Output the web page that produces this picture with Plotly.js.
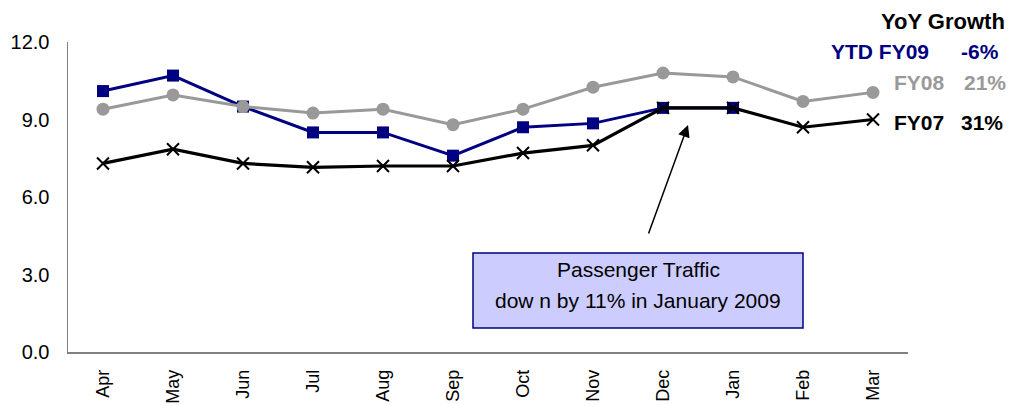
<!DOCTYPE html>
<html>
<head>
<meta charset="utf-8">
<script src="https://cdn.plot.ly/plotly-3.0.1.min.js"></script>
<style>
  html, body { margin: 0; padding: 0; background: #fff; }
  #chart { width: 1023px; height: 405px; }
</style>
</head>
<body>
<div id="chart"></div>
<script>
var months = ["Apr","May","Jun","Jul","Aug","Sep","Oct","Nov","Dec","Jan","Feb","Mar"];
var fy09 = [10.1, 10.7, 9.5, 8.5, 8.5, 7.6, 8.7, 8.85, 9.45, 9.45, null, null];
var fy08 = [9.4, 9.95, 9.5, 9.25, 9.4, 8.8, 9.4, 10.25, 10.8, 10.65, 9.7, 10.05];
var fy07 = [7.3, 7.85, 7.3, 7.15, 7.2, 7.2, 7.7, 8.0, 9.45, 9.45, 8.7, 9.0];
var yTicks = [0, 3, 6, 9, 12];
var yTickText = ["0.0", "3.0", "6.0", "9.0", "12.0"];

var FONT = "Liberation Sans, Arial, sans-serif";
var NAVY = "#000080", GRAY = "#999999", BLACK = "#000000";

var traces = [
  { x: months, y: fy09, type: "scatter", mode: "lines+markers", name: "YTD FY09",
    line: { color: NAVY, width: 3 },
    marker: { symbol: "square", size: 12, color: NAVY } },
  { x: months, y: fy08, type: "scatter", mode: "lines+markers", name: "FY08",
    line: { color: GRAY, width: 3 },
    marker: { symbol: "circle", size: 13, color: GRAY } },
  { x: months, y: fy07, type: "scatter", mode: "lines+markers", name: "FY07",
    line: { color: BLACK, width: 3.2 },
    marker: { symbol: "x-thin", size: 12, color: BLACK, line: { color: BLACK, width: 2 } } }
];

// plot-area pixel helpers for annotation placement (plot area 68..908 x, 42..352 y)
function px(x) { return (x - 68) / 840; }
function py(y) { return (352 - y) / 310; }

var layout = {
  width: 1023, height: 405,
  margin: { l: 68, r: 115, t: 42, b: 53 },
  paper_bgcolor: "#ffffff", plot_bgcolor: "#ffffff",
  showlegend: false,
  font: { family: FONT, color: "#000" },
  xaxis: {
    type: "category", range: [-0.5, 11.5],
    showline: true, linecolor: "#808080", linewidth: 1.5,
    showgrid: false, zeroline: false,
    ticks: "outside", ticklen: 9, tickcolor: "rgba(0,0,0,0)",
    tickangle: -90, tickfont: { family: FONT, size: 18, color: "#000" }
  },
  yaxis: {
    range: [0, 12], tickvals: yTicks, ticktext: yTickText,
    showline: true, linecolor: "#808080", linewidth: 1.5,
    showgrid: false, zeroline: false,
    ticks: "outside", ticklen: 13, tickcolor: "rgba(0,0,0,0)",
    tickfont: { family: FONT, size: 20, color: "#000" }
  },
  shapes: [
    { type: "rect", xref: "paper", yref: "paper",
      x0: px(473), x1: px(803), y0: py(328), y1: py(253),
      fillcolor: "#CCCCFF", line: { color: NAVY, width: 1.5 }, layer: "above" }
  ],
  annotations: [
    { xref: "paper", yref: "paper", x: px(638), y: py(269), text: "Passenger Traffic",
      showarrow: false, xanchor: "center", yanchor: "middle",
      font: { family: FONT, size: 21, color: "#000" } },
    { xref: "paper", yref: "paper", x: px(638), y: py(300), text: "dow n by 11% in January 2009",
      showarrow: false, xanchor: "center", yanchor: "middle",
      font: { family: FONT, size: 21, color: "#000" } },
    { xref: "paper", yref: "paper", x: px(688), y: py(125), text: "",
      showarrow: true, arrowhead: 2, arrowsize: 1.6, arrowwidth: 1.5, arrowcolor: "#000",
      axref: "pixel", ayref: "pixel", ax: -40, ay: 110 },
    { xref: "paper", yref: "paper", x: px(1007), y: py(21), text: "<b>YoY Growth</b>",
      showarrow: false, xanchor: "right", yanchor: "middle",
      font: { family: FONT, size: 22, color: BLACK } },
    { xref: "paper", yref: "paper", x: px(931), y: py(51), text: "<b>YTD FY09</b>",
      showarrow: false, xanchor: "right", yanchor: "middle",
      font: { family: FONT, size: 21, color: NAVY } },
    { xref: "paper", yref: "paper", x: px(1001), y: py(51), text: "<b>-6%</b>",
      showarrow: false, xanchor: "right", yanchor: "middle",
      font: { family: FONT, size: 21, color: NAVY } },
    { xref: "paper", yref: "paper", x: px(892), y: py(82), text: "<b>FY08</b>",
      showarrow: false, xanchor: "left", yanchor: "middle",
      font: { family: FONT, size: 21, color: GRAY } },
    { xref: "paper", yref: "paper", x: px(1008), y: py(82), text: "<b>21%</b>",
      showarrow: false, xanchor: "right", yanchor: "middle",
      font: { family: FONT, size: 21, color: GRAY } },
    { xref: "paper", yref: "paper", x: px(892), y: py(122), text: "<b>FY07</b>",
      showarrow: false, xanchor: "left", yanchor: "middle",
      font: { family: FONT, size: 21, color: BLACK } },
    { xref: "paper", yref: "paper", x: px(1005), y: py(122), text: "<b>31%</b>",
      showarrow: false, xanchor: "right", yanchor: "middle",
      font: { family: FONT, size: 21, color: BLACK } }
  ]
};

Plotly.newPlot("chart", traces, layout, { displayModeBar: false, staticPlot: true });
</script>
</body>
</html>
